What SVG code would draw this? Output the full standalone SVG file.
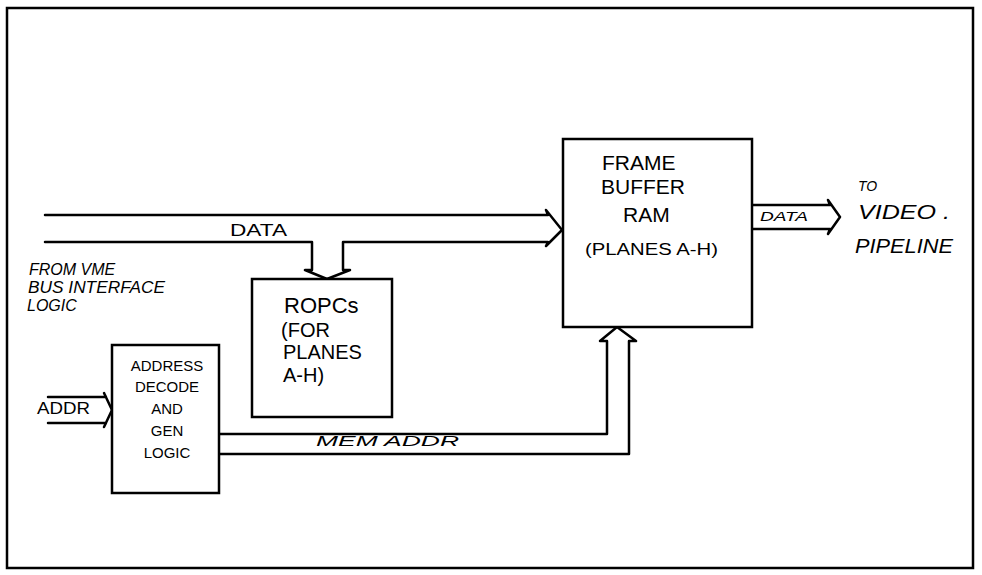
<svg xmlns="http://www.w3.org/2000/svg" width="982" height="575" viewBox="0 0 982 575">
<style>
.ln{fill:none;stroke:#000;stroke-width:2.5;stroke-linejoin:round;stroke-linecap:round}
.bx{fill:#fff;stroke:#000;stroke-width:2.5}
.t{font-family:"Liberation Sans",Arial,sans-serif;fill:#000}
.hw{font-style:italic}
</style>
<rect width="982" height="575" fill="#fff"/>
<rect id="frame" x="7" y="8" width="966" height="560" class="bx" fill="none"/>

<g id="connectors">
  <!-- data bus from VME to frame buffer -->
  <path class="ln" d="M45,215 L548,215 L546,210 L562,230 L546,246 L548,242 L343,242 L343,270 L350,270 L327,279 L305,270 L312,270 L312,242 L45,242"/>
  <!-- ADDR into address decode -->
  <path class="ln" d="M48,397 L106,397 L104,393 L112,410 L104,427 L106,423 L48,423"/>
  <!-- MEM ADDR to frame buffer -->
  <path class="ln" d="M219,434 L607,434 L607,341 L600,341 L617,327 L636,341 L629,341 L629,454 L219,454"/>
  <!-- DATA out to video pipeline -->
  <path class="ln" d="M752,205 L830,205 L828,200 L840,217 L828,234 L830,229 L752,229"/>
</g>

<g id="frame-buffer">
  <rect x="563" y="139" width="189" height="188" class="bx"/>
  <text class="t" x="602" y="170" font-size="21">FRAME</text>
  <text class="t" x="601" y="194" font-size="21">BUFFER</text>
  <text class="t" x="623" y="222" font-size="21">RAM</text>
  <text class="t" x="585" y="255" font-size="16" textLength="133" lengthAdjust="spacingAndGlyphs">(PLANES A-H)</text>
</g>

<g id="ropcs">
  <rect x="252" y="279" width="140" height="138" class="bx"/>
  <text class="t" x="284" y="313" font-size="22">ROPCs</text>
  <text class="t" x="281" y="337" font-size="20">(FOR</text>
  <text class="t" x="283" y="359" font-size="20">PLANES</text>
  <text class="t" x="283" y="382" font-size="20">A-H)</text>
</g>

<g id="address-decode">
  <rect x="112" y="345" width="107" height="148" class="bx"/>
  <text class="t" x="167" y="371" font-size="15" text-anchor="middle">ADDRESS</text>
  <text class="t" x="167" y="392" font-size="15" text-anchor="middle">DECODE</text>
  <text class="t" x="167" y="414" font-size="15" text-anchor="middle">AND</text>
  <text class="t" x="167" y="436" font-size="15" text-anchor="middle">GEN</text>
  <text class="t" x="167" y="458" font-size="15" text-anchor="middle">LOGIC</text>
</g>

<g id="labels">
  <text class="t" x="230" y="236" font-size="16" textLength="57" lengthAdjust="spacingAndGlyphs">DATA</text>
  <text class="t hw" x="29" y="275" font-size="16">FROM VME</text>
  <text class="t hw" x="28" y="293" font-size="16" textLength="137" lengthAdjust="spacingAndGlyphs">BUS INTERFACE</text>
  <text class="t hw" x="27" y="311" font-size="16">LOGIC</text>
  <text class="t" x="37" y="414" font-size="16" textLength="53" lengthAdjust="spacingAndGlyphs">ADDR</text>
  <text class="t hw" x="316" y="446" font-size="14" textLength="143" lengthAdjust="spacingAndGlyphs">MEM  ADDR</text>
  <text class="t hw" x="760" y="221" font-size="12" textLength="48" lengthAdjust="spacingAndGlyphs">DATA</text>
  <text class="t hw" x="858" y="191" font-size="14">TO</text>
  <text class="t hw" x="858" y="219" font-size="20" textLength="92" lengthAdjust="spacingAndGlyphs">VIDEO .</text>
  <text class="t hw" x="855" y="253" font-size="20" textLength="98" lengthAdjust="spacingAndGlyphs">PIPELINE</text>
</g>
</svg>
